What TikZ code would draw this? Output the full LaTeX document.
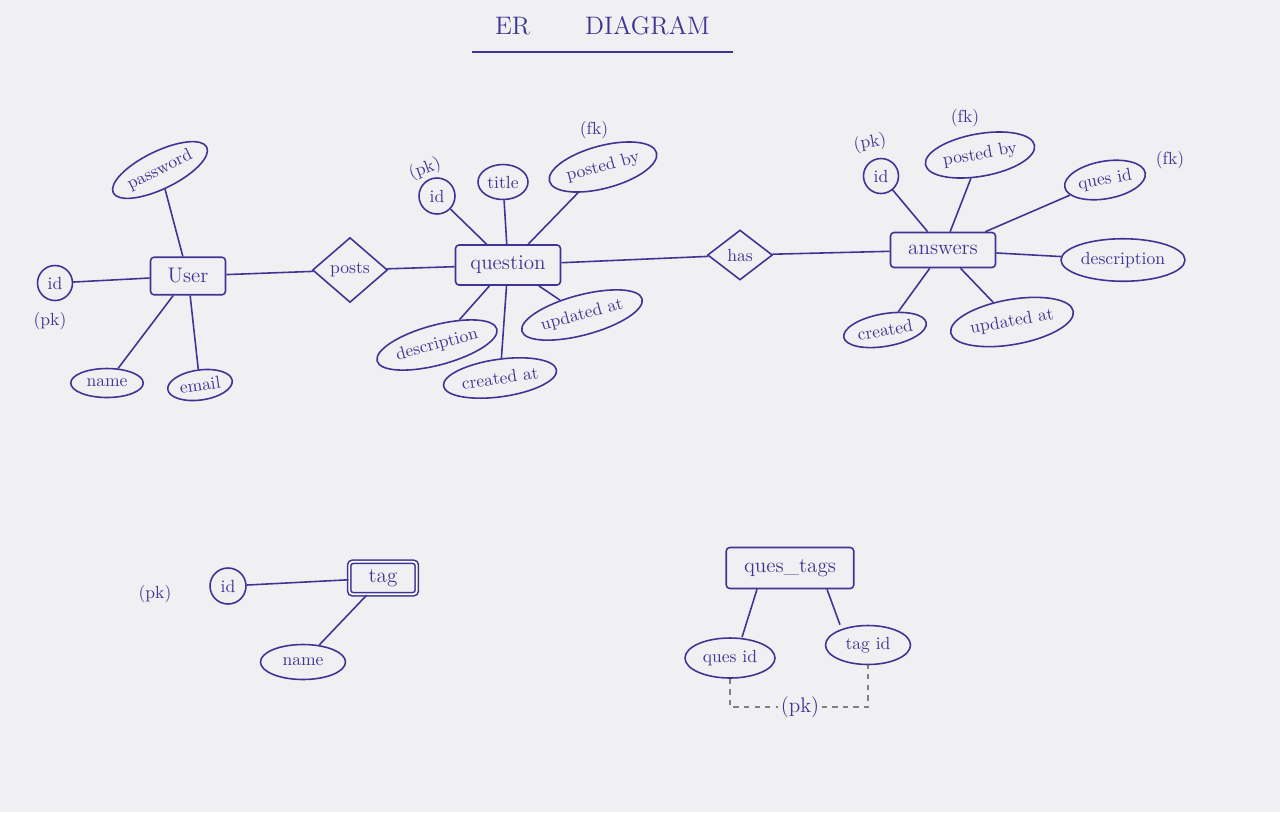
\documentclass[tikz,border=0pt]{standalone}
\usetikzlibrary{shapes,calc,positioning}
\definecolor{ink}{RGB}{62,52,148}
\definecolor{paper}{RGB}{240,240,243}
\tikzset{
    entity/.style = {draw, rectangle, rounded corners=2pt,
        minimum height=0.75cm,
        minimum width=1.5cm, align=center, font=\large},
    attr/.style = {draw, ellipse, inner sep=1pt},
    rel/.style = {draw, diamond, inner sep=0pt},
    keylabel/.style = {inner sep=1pt},
    pkdash/.style = {draw, dashed, gray, line width=0.7pt}
}

\begin{document}
\begin{tikzpicture}[color=ink, line width=0.9pt]
    \fill[paper] (0,0) rectangle (25.6,-16.24);
    % title
    \node [minimum width=5.2cm, inner ysep=9pt] (title) at (12.05,-0.52) {\Large ER\hspace{1.1cm}DIAGRAM};
    \draw (title.south west) -- (title.south east);

    % user side
    \node [entity] (user) at (3.76,-5.52) {User};
    \node [attr, rotate=26, minimum width=1.9cm, minimum height=0.75cm] (upass) at ($(user)+(-0.56,2.12)$) {password};
    \node [attr, circle, minimum size=0.7cm] (uid) at ($(user)+(-2.66,-0.14)$) {id};
    \node [keylabel] (uidpk) at ($(uid)+(-0.1,-0.76)$) {(pk)};
    \node [attr, minimum width=1.45cm, minimum height=0.58cm] (uname) at ($(user)+(-1.62,-2.14)$) {name};
    \node [attr, rotate=8, minimum width=1.3cm, minimum height=0.6cm] (uemail) at ($(user)+(0.24,-2.18)$) {email};
    \draw (upass) -- (user);
    \draw (uid) -- (user);
    \draw (uname) -- (user);
    \draw (uemail) -- (user);

    % question side
    \node [rel, minimum width=1.5cm, minimum height=1.3cm] (posts) at (7.0,-5.4) {posts};
    \node [entity, minimum width=2.1cm, minimum height=0.8cm] (question) at (10.16,-5.3) {question};
    \draw (user) -- (posts);
    \draw (posts) -- (question);
    \node [attr, circle, minimum size=0.72cm] (qid) at ($(question)+(-1.42,1.38)$) {id};
    \node [keylabel, rotate=20] (qidpk) at ($(qid)+(-0.24,0.54)$) {(pk)};
    \node [attr, minimum width=1.0cm, minimum height=0.7cm] (qtitle) at ($(question)+(-0.1,1.66)$) {title};
    \node [attr, rotate=15, minimum width=1.75cm, minimum height=0.85cm] (qposted) at ($(question)+(1.9,1.96)$) {posted by};
    \node [keylabel] (qpostedfk) at ($(qposted)+(-0.18,0.74)$) {(fk)};
    \node [attr, rotate=15, minimum width=1.95cm, minimum height=0.8cm] (qdesc) at ($(question)+(-1.42,-1.6)$) {description};
    \node [attr, rotate=8, minimum width=1.85cm, minimum height=0.75cm] (qcreated) at ($(question)+(-0.16,-2.26)$) {created at};
    \node [attr, rotate=15, minimum width=1.8cm, minimum height=0.8cm] (qupdated) at ($(question)+(1.48,-1.0)$) {updated at};
    \draw (qid) -- (question);
    \draw (qtitle) -- (question);
    \draw (qposted) -- (question);
    \draw (qdesc) -- (question);
    \draw (qcreated) -- (question);
    \draw (qupdated) -- (question);

    % answers side
    \node [rel, minimum width=1.3cm, minimum height=1.0cm] (has) at (14.8,-5.1) {has};
    \node [entity, minimum width=2.1cm, minimum height=0.7cm] (answers) at (18.86,-5.0) {answers};
    \draw (question) -- (has);
    \draw (has) -- (answers);
    \node [attr, circle, minimum size=0.7cm] (aid) at ($(answers)+(-1.24,1.48)$) {id};
    \node [keylabel, rotate=10] (aidpk) at ($(aid)+(-0.22,0.66)$) {(pk)};
    \node [attr, rotate=10, minimum width=1.9cm, minimum height=0.85cm] (aposted) at ($(answers)+(0.74,1.9)$) {posted by};
    \node [keylabel] (apostedfk) at ($(aposted)+(-0.3,0.74)$) {(fk)};
    \node [attr, rotate=10, minimum width=1.6cm, minimum height=0.75cm] (aques) at ($(answers)+(3.24,1.4)$) {ques id};
    \node [keylabel] (aquesfk) at ($(aques)+(1.3,0.4)$) {(fk)};
    \node [attr, minimum width=2.3cm, minimum height=0.85cm] (adesc) at ($(answers)+(3.6,-0.2)$) {description};
    \node [attr, rotate=10, minimum width=1.4cm, minimum height=0.65cm] (acreated) at ($(answers)+(-1.16,-1.6)$) {created};
    \node [attr, rotate=10, minimum width=2.2cm, minimum height=0.9cm] (aupdated) at ($(answers)+(1.38,-1.44)$) {updated at};
    \draw (aid) -- (answers);
    \draw (aposted) -- (answers);
    \draw (aques) -- (answers);
    \draw (adesc) -- (answers);
    \draw (acreated) -- (answers);
    \draw (aupdated) -- (answers);

    % tag
    \node [entity, double, double distance=1pt, minimum width=1.35cm, minimum height=0.65cm] (tag) at (7.66,-11.56) {tag};
    \node [attr, circle, minimum size=0.72cm] (tid) at ($(tag)+(-3.1,-0.16)$) {id};
    \node [keylabel] (tidpk) at ($(tid)+(-1.46,-0.16)$) {(pk)};
    \node [attr, minimum width=1.7cm, minimum height=0.7cm] (tname) at ($(tag)+(-1.6,-1.68)$) {name};
    \draw (tid) -- (tag);
    \draw (tname) -- (tag);

    % ques_tags
    \node [entity, minimum width=2.55cm, minimum height=0.82cm] (qtags) at (15.8,-11.36) {ques\_tags};
    \node [attr, minimum width=1.8cm, minimum height=0.8cm] (qtq) at ($(qtags)+(-1.2,-1.8)$) {ques id};
    \node [attr, minimum width=1.7cm, minimum height=0.78cm] (qtt) at ($(qtags)+(1.56,-1.54)$) {tag id};
    \node [keylabel, font=\large] (qtpk) at ($(qtags)+(0.2,-2.78)$) {(pk)};
    \draw ([xshift=0.24cm]qtq.north) -- ([xshift=-0.66cm]qtags.south);
    \draw ([xshift=-0.56cm]qtt.north) -- ([xshift=0.74cm]qtags.south);
    \draw [pkdash] (qtq.south) |- (qtpk.west);
    \draw [pkdash] (qtpk.east) -| (qtt.south);
\end{tikzpicture}
\end{document}
